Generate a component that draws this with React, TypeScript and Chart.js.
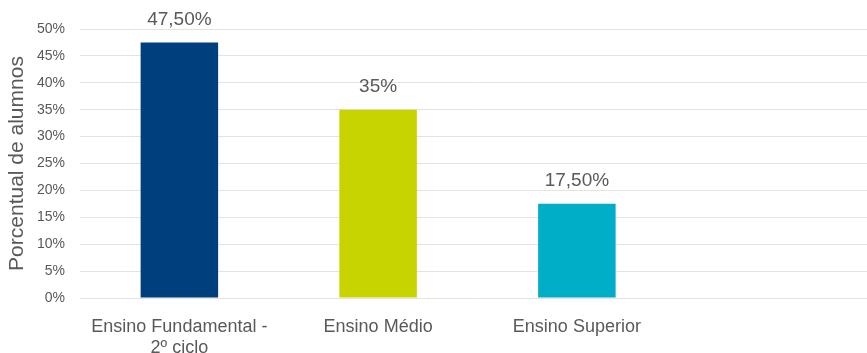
import React, { useEffect, useRef } from "react";
import { Chart, registerables } from "chart.js";

Chart.register(...registerables);

const categories: (string | string[])[] = [
  ["Ensino Fundamental -", "2º ciclo"],
  "Ensino Médio",
  "Ensino Superior",
  "",
];
const values: (number | null)[] = [47.5, 35, 17.5, null];
const valueLabels: string[] = ["47,50%", "35%", "17,50%", ""];
const barColors: string[] = ["#003F7D", "#C8D400", "#00AEC7", "#000000"];
const yTicks: number[] = [0, 5, 10, 15, 20, 25, 30, 35, 40, 45, 50];

const FONT = "'Liberation Sans', Arial, sans-serif";
const TEXT = "#595959";

const dataLabelPlugin = {
  id: "dataLabels",
  afterDatasetsDraw(chart: any) {
    const ctx = chart.ctx;
    const meta = chart.getDatasetMeta(0);
    ctx.save();
    ctx.font = `19px ${FONT}`;
    ctx.fillStyle = TEXT;
    ctx.textAlign = "center";
    ctx.textBaseline = "middle";
    meta.data.forEach((el: any, i: number) => {
      if (values[i] == null) return;
      ctx.fillText(valueLabels[i], el.x, el.y - 23);
    });
    ctx.restore();
  },
};

export default function App() {
  const ref = useRef<HTMLCanvasElement>(null);
  useEffect(() => {
    document.body.style.margin = "0";
    document.body.style.overflow = "hidden";
    const chart = new Chart(ref.current!, {
      type: "bar",
      data: {
        labels: categories,
        datasets: [
          {
            data: values,
            backgroundColor: barColors,
            categoryPercentage: 1,
            barPercentage: 0.39,
          },
        ],
      },
      options: {
        animation: false,
        responsive: false,
        maintainAspectRatio: false,
        layout: { padding: { top: 29, right: 0, bottom: 0, left: 0 } },
        plugins: { legend: { display: false }, tooltip: { enabled: false } },
        scales: {
          x: {
            grid: { display: false },
            border: { display: false },
            ticks: {
              color: TEXT,
              font: { family: FONT, size: 18 },
              maxRotation: 0,
              autoSkip: false,
              padding: 10,
            },
            afterFit(scale: any) {
              scale.height = 55;
            },
          },
          y: {
            min: 0,
            max: 50,
            afterBuildTicks(scale: any) {
              scale.ticks = yTicks.map((v) => ({ value: v }));
            },
            grid: { color: "#E3E3E3", lineWidth: 1, drawTicks: false },
            border: { display: false },
            ticks: {
              color: TEXT,
              font: { family: FONT, size: 14 },
              padding: 15,
              callback: (v: any) => `${v}%`,
            },
            title: {
              display: true,
              text: "Porcentual de alumnos",
              color: TEXT,
              font: { family: FONT, size: 21 },
              padding: { top: 5, bottom: 0 },
            },
            afterFit(scale: any) {
              scale.width = 80;
            },
          },
        },
      },
      plugins: [dataLabelPlugin],
    });
    return () => chart.destroy();
  }, []);
  return (
    <div style={{ position: "absolute", left: 0, top: 0, width: 875, height: 353 }}>
      <canvas ref={ref} width={875} height={353} />
    </div>
  );
}
